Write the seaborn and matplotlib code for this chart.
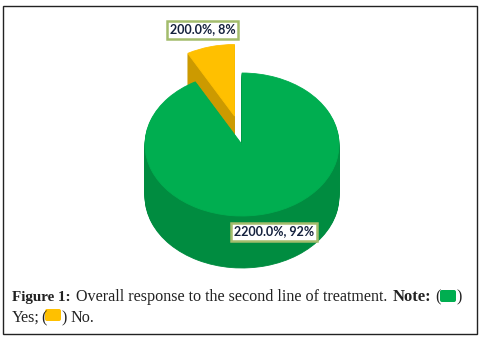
#!/usr/bin/env python3

import matplotlib
matplotlib.use("Agg")
import matplotlib.pyplot as plt
import seaborn as sns
from matplotlib.patches import FancyBboxPatch, Rectangle

# ===== DATA =====
CATEGORIES = ["Yes", "No"]
SHARES = [92, 8]
LABELS = ["2200.0%, 92%", "200.0%, 8%"]
# ================

GREEN, YELLOW = sns.color_palette(["#00AE50", "#FFC000"])
GREEN_DARK, YELLOW_DARK = sns.color_palette(["#008C40", "#CC9A00"])
RX, RY = 97.0, 71.5       # pixel radii of the top ellipse
CX, CY = 242.0, 144.5     # pixel centre of the green slice
DEPTH = 52                # pixels of side wall
EXPLODE = (234.5, 116.0)  # pixel apex of the pulled out slice

sns.set_theme(style="white")


def draw_slice(ax, index, center, color):
    wedges, _ = ax.pie(SHARES, startangle=90, counterclock=False, center=center,
                       radius=1, colors=[color, color], frame=True,
                       wedgeprops={"edgecolor": color, "linewidth": 0.6})
    wedges[1 - index].set_visible(False)


def unit(px, py):
    return (px - CX) / RX, (CY - py) / RY


fig = plt.figure(figsize=(4.81, 3.42), dpi=100)
ax = fig.add_axes([0, 0, 1, 1])

# yellow slice first, the green one overlaps its wall
for d in range(DEPTH, 0, -1):
    draw_slice(ax, 1, unit(EXPLODE[0], EXPLODE[1] + d), YELLOW_DARK)
draw_slice(ax, 1, unit(*EXPLODE), YELLOW)
for d in range(DEPTH, 0, -1):
    draw_slice(ax, 0, unit(CX, CY + d), GREEN_DARK)
draw_slice(ax, 0, unit(CX, CY), GREEN)

ax.set_aspect("auto")
ax.set_xlim(unit(0, 0)[0], unit(481, 0)[0])
ax.set_ylim(unit(0, 342)[1], unit(0, 0)[1])
ax.axis("off")

# overlay in pixel coordinates for labels, caption and frame
top = fig.add_axes([0, 0, 1, 1], facecolor="none")
top.set_xlim(0, 481)
top.set_ylim(342, 0)
top.axis("off")

box = dict(boxstyle="square,pad=0.24", fc="white", ec="#A3BC6C", lw=1.8)
for text, x, y in zip(LABELS, [274, 202.5], [231.5, 29.5]):
    top.text(x, y, text, ha="center", va="center", fontsize=9, fontweight="bold",
             family="Lato", color="#14213D", bbox=box)

top.add_patch(Rectangle((3.5, 5.5), 473.5, 328.5, fc="none", ec="#222222", lw=1.0))

SERIF = "Liberation Serif"
INK = "#222222"
pieces = [
    (12, 301, "Figure 1:", "bold", 10.9),
    (76, 301, "Overall response to the second line of treatment.", "normal", 11.65),
    (393, 301, "Note:", "bold", 11.9),
    (435, 301, "(", "normal", 11.65),
    (457, 301, ")", "normal", 11.65),
    (12, 322, "Yes;", "normal", 11.65),
    (41, 322, "(", "normal", 11.65),
    (62, 322, ")", "normal", 11.65),
    (70, 322, "No.", "normal", 11.65),
]
for x, y, text, weight, size in pieces:
    top.text(x, y, text, ha="left", va="baseline", fontsize=size, family=SERIF,
             fontweight=weight, color=INK)

for color, x, y in [(GREEN, 440, 290), (YELLOW, 45, 309)]:
    top.add_patch(FancyBboxPatch((x + 2, y + 2), 12, 8, boxstyle="round,pad=2",
                                 fc=color, ec="none"))

fig.savefig("out.png", dpi=100, facecolor="white")
plt.close(fig)
